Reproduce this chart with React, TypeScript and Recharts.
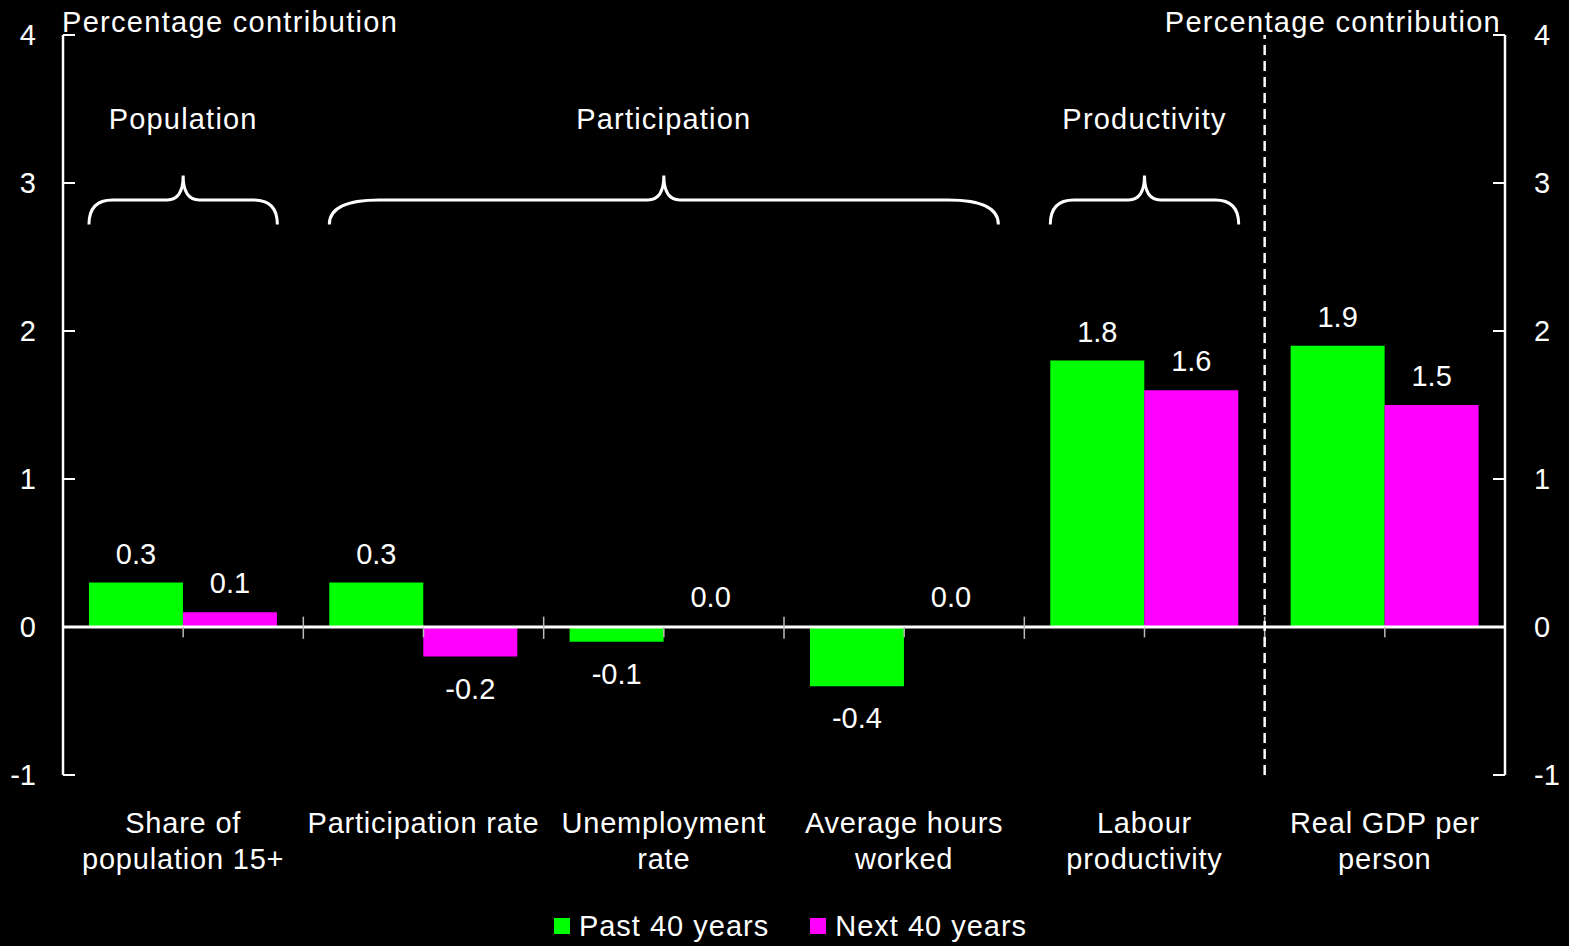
import React from "react";
import {
  Bar,
  BarChart,
  LabelList,
  Legend,
  ReferenceLine,
  XAxis,
  YAxis,
} from "recharts";

const CATEGORIES = [
  "Share of population 15+",
  "Participation rate",
  "Unemployment rate",
  "Average hours worked",
  "Labour productivity",
  "Real GDP per person",
];
const TICK_LINES = [
  ["Share of", "population 15+"],
  ["Participation rate"],
  ["Unemployment", "rate"],
  ["Average hours", "worked"],
  ["Labour", "productivity"],
  ["Real GDP per", "person"],
];
const PAST = [0.3, 0.3, -0.1, -0.4, 1.8, 1.9];
const NEXT = [0.1, -0.2, 0.0, 0.0, 1.6, 1.5];
const Y_TICKS = [-1, 0, 1, 2, 3, 4];
const GROUPS = [
  { label: "Population", from: 0, to: 1 },
  { label: "Participation", from: 1, to: 4 },
  { label: "Productivity", from: 4, to: 5 },
];
const SERIES = [
  { key: "past", name: "Past 40 years", color: "#00ff00" },
  { key: "next", name: "Next 40 years", color: "#ff00ff" },
];
const AXIS_TITLE = "Percentage contribution";

// span: numeric extent of each category, used by the helper axis
const data = CATEGORIES.map((category, i) => ({
  category,
  span: [i, i + 1],
  past: PAST[i],
  next: NEXT[i],
}));

const FONT = "'Liberation Sans', Arial, sans-serif";
const W = 1569;
const H = 946;
const GAP = 0.108; // bar category gap as a fraction of a category

const CategoryTick = (props: any) => {
  const { x, y, payload } = props;
  const idx = CATEGORIES.indexOf(payload.value);
  const lines = TICK_LINES[idx] ?? [payload.value];
  return (
    <text
      x={x}
      y={y}
      textAnchor="middle"
      fill="#fff"
      fontSize={29}
      fontFamily={FONT}
      letterSpacing={0.8}
    >
      {lines.map((l, i) => (
        <tspan key={i} x={x} dy={i === 0 ? 58 : 36}>
          {l}
        </tspan>
      ))}
    </text>
  );
};

const ValueLabel = (props: any) => {
  const { x, y, width, height, value } = props;
  const top = Math.min(y, y + height);
  const bottom = Math.max(y, y + height);
  const ty = value < 0 ? bottom + 42 : top - 19;
  return (
    <text
      x={x + width / 2}
      y={ty}
      textAnchor="middle"
      fill="#fff"
      fontSize={29}
      fontFamily={FONT}
    >
      {Number(value).toFixed(1)}
    </text>
  );
};

// curly brace between the segment's end points, label above it
const braceShape = (label: string) => (props: any) => {
  const { x1, y1, x2, y2 } = props;
  const left = Math.min(x1, x2);
  const right = Math.max(x1, x2);
  const ends = Math.max(y1, y2);
  const peak = Math.min(y1, y2);
  const mid = (left + right) / 2;
  const bar = (ends + peak) / 2;
  const r = Math.min(50, (right - left) / 8);
  const d = `M${left},${ends} Q${left},${bar} ${left + r},${bar} L${mid - 16},${bar} Q${mid},${bar} ${mid},${peak} Q${mid},${bar} ${mid + 16},${bar} L${right - r},${bar} Q${right},${bar} ${right},${ends}`;
  return (
    <g>
      <path d={d} fill="none" stroke="#fff" strokeWidth={3} />
      <text
        x={mid}
        y={peak - 47}
        textAnchor="middle"
        fill="#fff"
        fontSize={29}
        fontFamily={FONT}
        letterSpacing={1.2}
      >
        {label}
      </text>
    </g>
  );
};

const renderLegend = () => (
  <div
    style={{
      display: "flex",
      justifyContent: "center",
      alignItems: "center",
      height: 40,
      gap: 41,
      color: "#fff",
      fontSize: 29,
      fontFamily: FONT,
      letterSpacing: 1,
      paddingLeft: 12,
    }}
  >
    {SERIES.map((s) => (
      <div key={s.key} style={{ display: "flex", alignItems: "center" }}>
        <span
          style={{
            display: "inline-block",
            width: 16,
            height: 16,
            background: s.color,
            marginRight: 9,
          }}
        />
        {s.name}
      </div>
    ))}
  </div>
);

const axisTitleStyle: React.CSSProperties = {
  position: "absolute",
  top: 5,
  color: "#fff",
  fontSize: 29,
  fontFamily: FONT,
  letterSpacing: 1.3,
  whiteSpace: "nowrap",
  lineHeight: "34px",
};

const yAxisCommon = {
  domain: [-1, 4] as [number, number],
  ticks: Y_TICKS,
  allowDataOverflow: true,
  tickSize: -12,
  axisLine: { stroke: "#fff", strokeWidth: 2.5 },
  tickLine: { stroke: "#fff", strokeWidth: 2 },
  tick: { fill: "#fff", fontSize: 29, fontFamily: FONT },
};

export default function App() {
  const centers = CATEGORIES.map((_, i) => i + 0.5);
  const bounds = CATEGORIES.slice(1).map((_, i) => i + 1);

  return (
    <div
      style={{
        position: "absolute",
        left: 0,
        top: 0,
        width: W,
        height: H,
        background: "#000",
        fontFamily: FONT,
      }}
    >
      <BarChart
        width={W}
        height={H}
        data={data}
        margin={{ top: 35, right: 0, bottom: 0, left: 0 }}
        barCategoryGap={`${GAP * 100}%`}
        barGap={0}
      >
        <XAxis
          dataKey="category"
          axisLine={false}
          tickLine={false}
          tickSize={0}
          tickMargin={0}
          height={131}
          interval={0}
          tick={<CategoryTick />}
        />
        <XAxis
          xAxisId="num"
          type="number"
          dataKey="span"
          domain={[0, CATEGORIES.length]}
          allowDataOverflow
          hide
        />
        <YAxis yAxisId="left" width={63} tickMargin={39} {...yAxisCommon} />
        <YAxis
          yAxisId="right"
          orientation="right"
          width={64}
          tickMargin={41}
          {...yAxisCommon}
        />
        <Legend
          verticalAlign="bottom"
          content={renderLegend}
          wrapperStyle={{ height: 40 }}
        />
        {SERIES.map((s) => (
          <Bar
            key={s.key}
            dataKey={s.key}
            name={s.name}
            yAxisId="left"
            fill={s.color}
            minPointSize={1}
            isAnimationActive={false}
          >
            <LabelList dataKey={s.key} content={<ValueLabel />} />
          </Bar>
        ))}
        <ReferenceLine yAxisId="left" y={0} stroke="#fff" strokeWidth={3} />
        {bounds.map((b) => (
          <ReferenceLine
            key={`b${b}`}
            xAxisId="num"
            yAxisId="left"
            segment={[
              { x: b, y: 0.07 },
              { x: b, y: -0.08 },
            ]}
            stroke="#bbb"
            strokeWidth={1.5}
          />
        ))}
        {centers.map((c) => (
          <ReferenceLine
            key={`c${c}`}
            xAxisId="num"
            yAxisId="left"
            segment={[
              { x: c, y: 0 },
              { x: c, y: -0.07 },
            ]}
            stroke="#bbb"
            strokeWidth={1.5}
          />
        ))}
        <ReferenceLine
          xAxisId="num"
          yAxisId="left"
          x={5}
          stroke="#fff"
          strokeWidth={2.5}
          strokeDasharray="10 6"
        />
        {GROUPS.map((g) => (
          <ReferenceLine
            key={g.label}
            xAxisId="num"
            yAxisId="left"
            segment={[
              { x: g.from + GAP, y: 2.72 },
              { x: g.to - GAP, y: 3.05 },
            ]}
            shape={braceShape(g.label)}
          />
        ))}
      </BarChart>
      <div style={{ ...axisTitleStyle, left: 62 }}>{AXIS_TITLE}</div>
      <div style={{ ...axisTitleStyle, right: 68 }}>{AXIS_TITLE}</div>
    </div>
  );
}
